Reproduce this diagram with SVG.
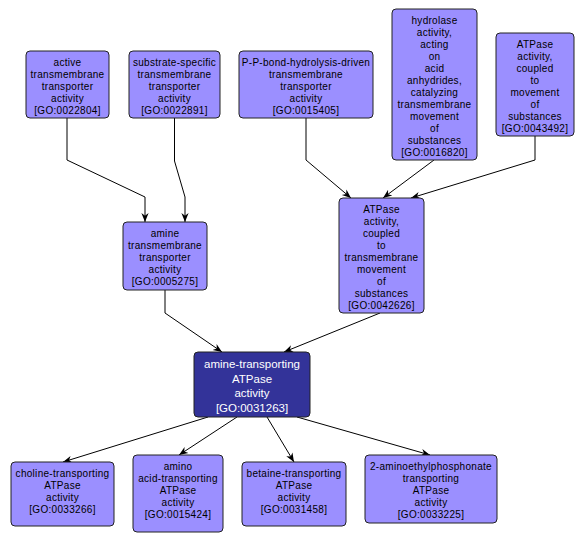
<svg xmlns="http://www.w3.org/2000/svg" width="585" height="534" viewBox="0 0 585 534">
<defs>
<style>
.n rect{fill:#9b8fff;stroke:#222;stroke-width:1}
.n text{font-family:"Liberation Sans",Arial,sans-serif;font-size:10px;letter-spacing:0.3px;fill:#000;text-anchor:middle}
.f rect{fill:#333399;stroke:#222;stroke-width:1}
.f text{font-family:"Liberation Sans",Arial,sans-serif;font-size:11.5px;fill:#fff;text-anchor:middle}
.e polyline{fill:none;stroke:#000;stroke-width:1;marker-end:url(#arr)}
</style>
<marker id="arr" viewBox="0 0 10 10" refX="10" refY="5" markerWidth="9" markerHeight="9" markerUnits="userSpaceOnUse" orient="auto">
<path d="M0,1 L10,5 L0,9 L3,5 z" fill="#000"/>
</marker>
</defs>
<rect width="585" height="534" fill="#fff"/>
<g id="edges" class="e">
<polyline points="67,118 67,160 145,197 145,222"/>
<polyline points="174.5,118 174.5,161 185,197 185,222"/>
<polyline points="306,118 306,160 351,198"/>
<polyline points="434,160 383,198"/>
<polyline points="535,136 535,160 411,198"/>
<polyline points="165,290 165,313 222,352"/>
<polyline points="380,313 284,352"/>
<polyline points="208,417 63,462"/>
<polyline points="237,417 179,455"/>
<polyline points="267,417 294,462"/>
<polyline points="297,417 430,455"/>
</g>
<g id="GO0022804" class="n">
<rect x="26" y="51" width="83" height="67" rx="4"/>
<text x="67.5" y="66">active</text>
<text x="67.5" y="78">transmembrane</text>
<text x="67.5" y="90">transporter</text>
<text x="67.5" y="102">activity</text>
<text x="67.5" y="114">[GO:0022804]</text>
</g>
<g id="GO0022891" class="n">
<rect x="129" y="51" width="91" height="67" rx="4"/>
<text x="174.5" y="66">substrate-specific</text>
<text x="174.5" y="78">transmembrane</text>
<text x="174.5" y="90">transporter</text>
<text x="174.5" y="102">activity</text>
<text x="174.5" y="114">[GO:0022891]</text>
</g>
<g id="GO0015405" class="n">
<rect x="239" y="51" width="134" height="67" rx="4"/>
<text x="306" y="66">P-P-bond-hydrolysis-driven</text>
<text x="306" y="78">transmembrane</text>
<text x="306" y="90">transporter</text>
<text x="306" y="102">activity</text>
<text x="306" y="114">[GO:0015405]</text>
</g>
<g id="GO0016820" class="n">
<rect x="392" y="9" width="85" height="151" rx="4"/>
<text x="434.5" y="24">hydrolase</text>
<text x="434.5" y="36">activity,</text>
<text x="434.5" y="48">acting</text>
<text x="434.5" y="60">on</text>
<text x="434.5" y="72">acid</text>
<text x="434.5" y="84">anhydrides,</text>
<text x="434.5" y="96">catalyzing</text>
<text x="434.5" y="108">transmembrane</text>
<text x="434.5" y="120">movement</text>
<text x="434.5" y="132">of</text>
<text x="434.5" y="144">substances</text>
<text x="434.5" y="156">[GO:0016820]</text>
</g>
<g id="GO0043492" class="n">
<rect x="496" y="33" width="78" height="103" rx="4"/>
<text x="535" y="48">ATPase</text>
<text x="535" y="60">activity,</text>
<text x="535" y="72">coupled</text>
<text x="535" y="84">to</text>
<text x="535" y="96">movement</text>
<text x="535" y="108">of</text>
<text x="535" y="120">substances</text>
<text x="535" y="132">[GO:0043492]</text>
</g>
<g id="GO0005275" class="n">
<rect x="123" y="222" width="84" height="68" rx="4"/>
<text x="165" y="237">amine</text>
<text x="165" y="249">transmembrane</text>
<text x="165" y="261">transporter</text>
<text x="165" y="273">activity</text>
<text x="165" y="285">[GO:0005275]</text>
</g>
<g id="GO0042626" class="n">
<rect x="339" y="198" width="85" height="115" rx="4"/>
<text x="381.5" y="213">ATPase</text>
<text x="381.5" y="225">activity,</text>
<text x="381.5" y="237">coupled</text>
<text x="381.5" y="249">to</text>
<text x="381.5" y="261">transmembrane</text>
<text x="381.5" y="273">movement</text>
<text x="381.5" y="285">of</text>
<text x="381.5" y="297">substances</text>
<text x="381.5" y="309">[GO:0042626]</text>
</g>
<g id="GO0031263" class="f">
<rect x="194" y="352" width="116" height="65" rx="4"/>
<text x="252" y="368">amine-transporting</text>
<text x="252" y="382.5">ATPase</text>
<text x="252" y="397">activity</text>
<text x="252" y="411.5">[GO:0031263]</text>
</g>
<g id="GO0033266" class="n">
<rect x="11" y="462" width="103" height="64" rx="4"/>
<text x="62.5" y="477">choline-transporting</text>
<text x="62.5" y="489">ATPase</text>
<text x="62.5" y="501">activity</text>
<text x="62.5" y="513">[GO:0033266]</text>
</g>
<g id="GO0015424" class="n">
<rect x="133" y="455" width="90" height="77" rx="4"/>
<text x="178" y="470">amino</text>
<text x="178" y="482">acid-transporting</text>
<text x="178" y="494">ATPase</text>
<text x="178" y="506">activity</text>
<text x="178" y="518">[GO:0015424]</text>
</g>
<g id="GO0031458" class="n">
<rect x="242" y="462" width="104" height="64" rx="4"/>
<text x="294" y="477">betaine-transporting</text>
<text x="294" y="489">ATPase</text>
<text x="294" y="501">activity</text>
<text x="294" y="513">[GO:0031458]</text>
</g>
<g id="GO0033225" class="n">
<rect x="365" y="455" width="132" height="68" rx="4"/>
<text x="431" y="470">2-aminoethylphosphonate</text>
<text x="431" y="482">transporting</text>
<text x="431" y="494">ATPase</text>
<text x="431" y="506">activity</text>
<text x="431" y="518">[GO:0033225]</text>
</g>
</svg>
